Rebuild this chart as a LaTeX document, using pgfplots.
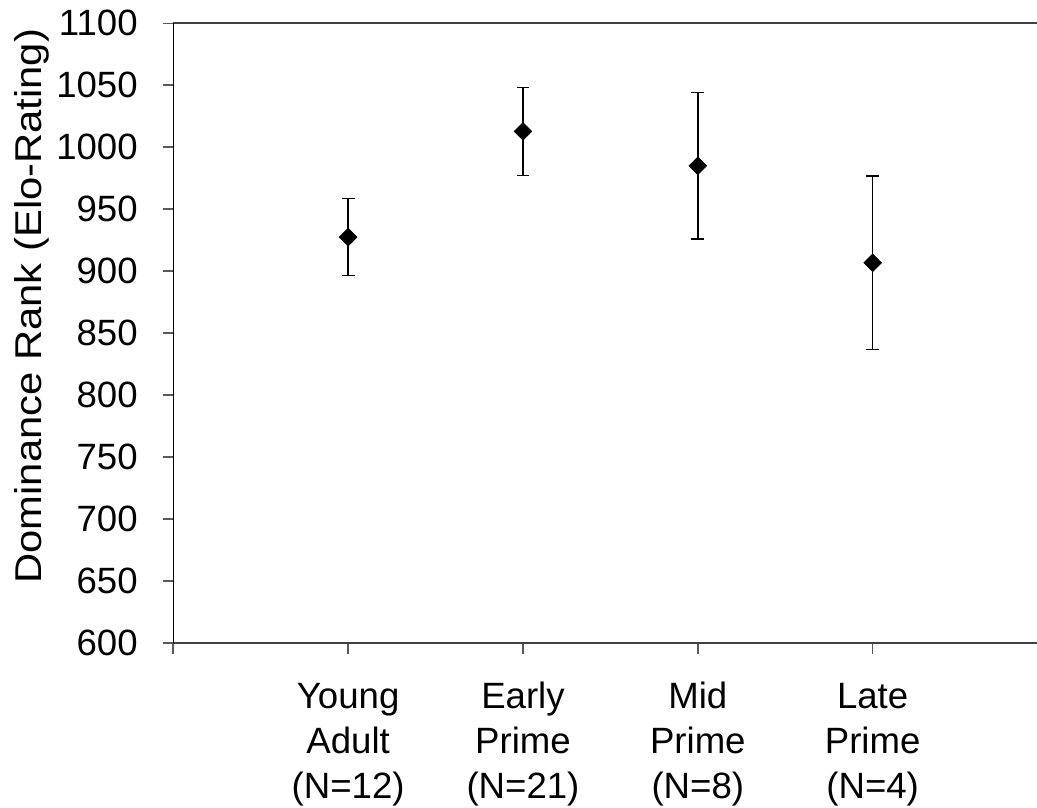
\documentclass[border=0pt]{standalone}
\usepackage{fontspec}
\setmainfont{Liberation Sans}
\newfontfamily\labelfont{Liberation Sans}[FakeStretch=1.12]
\usepackage{pgfplots}
\pgfplotsset{compat=1.18}
\usepackage{pgfplotstable}

% Mean Elo rating and error half-width for each age class
\pgfplotstableread{
x   y       e
1   927.5   31
2   1012.8  35.5
3   985.0   59
4   906.8   70
}\elodata

\newcommand{\chartfont}{\fontsize{18.3}{22.5}\selectfont}

\begin{document}
\begin{tikzpicture}
\begin{axis}[
  name=ax,
  scale only axis,
  width=431.85pt, height=309.85pt,
  xmin=0, xmax=4.94,
  ymin=600, ymax=1100,
  axis y line*=left,
  xtick pos=left,
  tick align=outside,
  major tick length=5.35pt,
  xtick={0,1,2,3,4},
  xticklabels={
    {},
    {\strut Young\\\strut Adult\\\strut (N=12)},
    {\strut Early\\\strut Prime\\\strut (N=21)},
    {\strut Mid\\\strut Prime\\\strut (N=8)},
    {\strut Late\\\strut Prime\\\strut (N=4)}},
  ytick={600,650,...,1100},
  /pgf/number format/1000 sep={},
  /pgf/number format/assume math mode=true,
  x axis line style={black!75, line width=0.9pt},
  y axis line style={black, line width=0.6pt},
  every tick/.style={black!65, line width=0.8pt},
  yticklabel style={font=\chartfont, anchor=east, inner sep=0pt, xshift=-12.25pt},
  xticklabel style={font=\chartfont, anchor=north, inner sep=0pt, align=center, yshift=-11.25pt},
  ylabel={Dominance Rank (Elo-Rating)},
  ylabel style={font=\labelfont\fontsize{18.65}{22}\selectfont, at={(axis description cs:-0.1524,0.5435)}, anchor=base},
  clip=false,
]
\addplot[
  only marks,
  mark=square*,
  mark size=3.1pt,
  mark options={rotate=45, fill=black, draw=black},
  error bars/.cd,
    y dir=both, y explicit,
    error bar style={black, line width=0.75pt},
    error mark options={rotate=90, mark size=3.2pt, line width=0.75pt, black},
] table[x=x, y=y, y error=e] {\elodata};
\end{axis}
\pgfresetboundingbox
\path (ax.south west) +(-86.65pt,-82.35pt) coordinate (bl);
\path (ax.north east) +(0pt,11.65pt) coordinate (tr);
\path (bl) rectangle (tr);
\end{tikzpicture}
\end{document}
